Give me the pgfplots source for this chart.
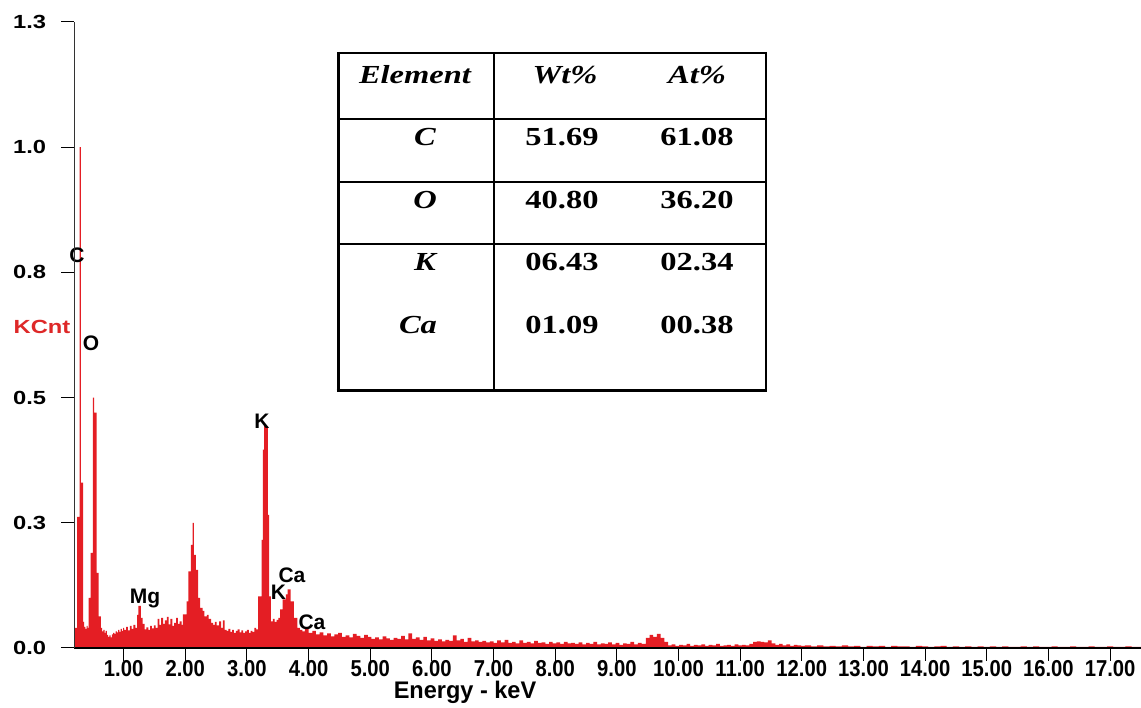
\documentclass[border=0pt]{standalone}
\usepackage{fontspec}
\usepackage{pgfplots}
\usepackage{pgfplotstable}
\pgfplotsset{compat=1.18}
\setmainfont{Liberation Sans}
\newfontfamily\ytfont[FakeStretch=1.25]{Liberation Sans}
\newfontfamily\xtfont[FakeStretch=0.88]{Liberation Sans}
\newfontfamily\xlfont[FakeStretch=0.98]{Liberation Sans}
\newfontfamily\pkfont[FakeStretch=1.0]{Liberation Sans}
\newfontfamily\tbfont[FakeStretch=1.25]{Liberation Serif}
\definecolor{specred}{RGB}{228,30,36}
\definecolor{kred}{RGB}{222,40,40}

% EDS spectrum: left edge of each channel group (keV) and counts (KCnt)
\pgfplotstableread{
E cnt
0.200 0.040
0.245 0.262
0.287 1.000
0.305 0.330
0.345 0.052
0.360 0.042
0.380 0.038
0.400 0.044
0.415 0.040
0.433 0.100
0.466 0.190
0.500 0.500
0.520 0.470
0.563 0.150
0.595 0.063
0.630 0.040
0.650 0.033
0.670 0.036
0.690 0.030
0.710 0.034
0.730 0.026
0.750 0.022
0.770 0.025
0.790 0.021
0.810 0.027
0.830 0.030
0.850 0.028
0.870 0.033
0.890 0.031
0.910 0.036
0.930 0.032
0.950 0.038
0.970 0.034
0.990 0.040
1.01 0.036
1.04 0.042
1.07 0.035
1.10 0.044
1.13 0.038
1.16 0.046
1.19 0.040
1.22 0.066
1.24 0.084
1.28 0.060
1.31 0.048
1.34 0.037
1.37 0.041
1.40 0.036
1.43 0.044
1.46 0.039
1.49 0.045
1.52 0.040
1.55 0.058
1.58 0.046
1.61 0.060
1.64 0.048
1.67 0.055
1.70 0.062
1.73 0.047
1.76 0.058
1.79 0.044
1.82 0.050
1.85 0.060
1.88 0.048
1.91 0.053
1.94 0.046
1.96 0.067
2.02 0.093
2.05 0.153
2.09 0.206
2.12 0.250
2.14 0.186
2.17 0.156
2.21 0.100
2.24 0.080
2.28 0.074
2.31 0.063
2.35 0.066
2.38 0.058
2.42 0.050
2.45 0.046
2.48 0.052
2.51 0.045
2.55 0.053
2.58 0.040
2.61 0.055
2.64 0.036
2.67 0.034
2.70 0.038
2.73 0.032
2.76 0.036
2.79 0.030
2.82 0.034
2.85 0.037
2.88 0.031
2.91 0.035
2.94 0.030
2.97 0.033
3.00 0.036
3.03 0.030
3.06 0.034
3.09 0.032
3.12 0.040
3.15 0.037
3.18 0.103
3.24 0.216
3.26 0.396
3.28 0.443
3.34 0.266
3.36 0.103
3.39 0.053
3.42 0.058
3.45 0.052
3.48 0.056
3.51 0.060
3.54 0.077
3.58 0.097
3.63 0.107
3.66 0.117
3.71 0.093
3.76 0.060
3.82 0.040
3.86 0.036
3.90 0.033
3.94 0.038
4.00 0.030
4.06 0.034
4.12 0.027
4.18 0.031
4.24 0.025
4.30 0.029
4.36 0.023
4.42 0.027
4.48 0.030
4.54 0.022
4.60 0.025
4.66 0.021
4.72 0.028
4.78 0.024
4.84 0.020
4.90 0.026
4.96 0.022
5.02 0.018
5.08 0.021
5.14 0.017
5.20 0.023
5.26 0.019
5.32 0.016
5.38 0.020
5.44 0.018
5.50 0.024
5.56 0.017
5.62 0.029
5.68 0.018
5.74 0.021
5.80 0.016
5.86 0.022
5.92 0.015
5.98 0.019
6.04 0.014
6.10 0.017
6.16 0.013
6.22 0.016
6.28 0.014
6.34 0.025
6.40 0.015
6.46 0.018
6.52 0.012
6.58 0.020
6.64 0.013
6.70 0.015
6.76 0.012
6.82 0.014
6.88 0.011
6.94 0.013
7.00 0.010
7.06 0.015
7.12 0.011
7.18 0.016
7.24 0.010
7.30 0.012
7.36 0.009
7.42 0.015
7.48 0.010
7.54 0.012
7.60 0.009
7.66 0.014
7.72 0.010
7.78 0.011
7.84 0.008
7.90 0.012
7.96 0.009
8.02 0.011
8.08 0.008
8.14 0.012
8.20 0.009
8.26 0.010
8.32 0.008
8.38 0.011
8.44 0.007
8.50 0.010
8.56 0.008
8.62 0.012
8.68 0.007
8.74 0.009
8.80 0.008
8.86 0.011
8.92 0.007
8.98 0.010
9.04 0.006
9.10 0.009
9.16 0.008
9.22 0.012
9.28 0.007
9.34 0.010
9.40 0.008
9.47 0.020
9.53 0.026
9.59 0.022
9.65 0.028
9.71 0.020
9.77 0.012
9.83 0.005
9.89 0.007
9.95 0.004
10.01 0.006
10.07 0.005
10.13 0.008
10.19 0.004
10.25 0.006
10.31 0.005
10.37 0.007
10.43 0.004
10.49 0.006
10.55 0.005
10.61 0.008
10.67 0.004
10.73 0.005
10.79 0.006
10.85 0.004
10.91 0.007
10.97 0.005
11.03 0.006
11.09 0.005
11.15 0.008
11.21 0.012
11.27 0.013
11.33 0.012
11.39 0.011
11.45 0.015
11.51 0.009
11.57 0.006
11.63 0.008
11.69 0.005
11.75 0.007
11.81 0.004
11.87 0.006
11.93 0.005
11.99 0.004
12.05 0.005
12.15 0.003
12.25 0.005
12.35 0.003
12.45 0.004
12.55 0.003
12.65 0.005
12.75 0.003
12.85 0.004
12.95 0.002
13.05 0.004
13.15 0.003
13.25 0.004
13.35 0.002
13.45 0.004
13.55 0.003
13.65 0.003
13.75 0.002
13.85 0.004
13.95 0.003
14.05 0.002
14.15 0.003
14.25 0.004
14.35 0.002
14.45 0.003
14.55 0.002
14.65 0.003
14.75 0.002
14.85 0.003
14.95 0.002
15.05 0.003
15.15 0.002
15.25 0.003
15.35 0.002
15.45 0.002
15.55 0.003
15.65 0.002
15.75 0.003
15.85 0.002
15.95 0.002
16.05 0.003
16.15 0.002
16.25 0.002
16.35 0.003
16.45 0.002
16.55 0.002
16.65 0.003
16.75 0.002
16.85 0.002
16.95 0.003
17.05 0.002
17.15 0.002
17.25 0.003
17.35 0.002
17.50 0.002
}\spectrum

\begin{document}
\begin{tikzpicture}[x=1pt,y=1pt]
\begin{axis}[
  at={(74.3pt,60pt)}, anchor=south west,
  scale only axis, width=1066.6pt, height=626pt,
  xmin=0.2, xmax=17.5, ymin=0, ymax=1.25,
  axis x line=bottom, axis y line=left,
  x axis line style={-, line width=2pt, black},
  y axis line style={-, line width=1.3pt, black!80},
  axis on top, clip=false,
  xtick={1,2,...,17},
  xticklabels={1.00,2.00,3.00,4.00,5.00,6.00,7.00,8.00,9.00,10.00,11.00,12.00,13.00,14.00,15.00,16.00,17.00},
  ytick={0,0.25,0.5,0.75,1,1.25},
  yticklabels={0.0,0.3,0.5,0.8,1.0,1.3},
  tick align=outside, major tick length=13pt,
  tick style={black, line width=1pt},
  /pgf/number format/assume math mode=true,
  xticklabel style={font=\xtfont\bfseries\fontsize{23}{23}\selectfont, inner sep=1pt, yshift=2pt},
  yticklabel style={font=\ytfont\bfseries\fontsize{19}{19}\selectfont, inner sep=1pt, xshift=-14pt},
]
\addplot[const plot, fill=specred, draw=none] table[x=E, y=cnt] {\spectrum} \closedcycle;

% peak identifications
\begin{scope}[every node/.style={font=\pkfont\bfseries\fontsize{21}{21}\selectfont, inner sep=0pt}]
\node at (axis cs:0.243,0.785) {C};
\node at (axis cs:0.470,0.609) {O};
\node at (axis cs:1.346,0.098) {Mg};
\node at (axis cs:3.244,0.452) {K};
\node at (axis cs:3.730,0.145) {Ca};
\node at (axis cs:3.510,0.111) {K};
\node at (axis cs:4.055,0.051) {Ca};
\end{scope}
\end{axis}

% axis titles
\node[font=\ytfont\bfseries\fontsize{19}{19}\selectfont, text=kred] at (42,381) {KCnt};
\node[font=\xlfont\bfseries\fontsize{24}{24}\selectfont] at (465,16) {Energy - keV};

% composition table
\draw[line width=1.3pt] (338,655) -- (766,655);
\draw[line width=2pt] (766,656) -- (766,317);
\draw[line width=3pt] (338,656) -- (338,316);
\draw[line width=3pt] (336.5,317) -- (767,317);
\draw[line width=1.3pt] (494,655) -- (494,317);
\draw[line width=1.2pt] (338,589) -- (766,589);
\draw[line width=1.2pt] (338,526) -- (766,526);
\draw[line width=1.2pt] (338,464) -- (766,464);
\begin{scope}[every node/.style={font=\tbfont\bfseries\fontsize{26}{26}\selectfont, inner sep=0pt}]
\node[font=\tbfont\bfseries\itshape\fontsize{26}{26}\selectfont] at (415,633) {Element};
\node[font=\tbfont\bfseries\itshape\fontsize{26}{26}\selectfont] at (565,633) {Wt\%};
\node[font=\tbfont\bfseries\itshape\fontsize{26}{26}\selectfont] at (697,633) {At\%};
\node[font=\tbfont\bfseries\itshape\fontsize{26}{26}\selectfont] at (425,571) {C};
\node[font=\tbfont\bfseries\itshape\fontsize{26}{26}\selectfont] at (425,508) {O};
\node[font=\tbfont\bfseries\itshape\fontsize{26}{26}\selectfont] at (425,446) {K};
\node[font=\tbfont\bfseries\itshape\fontsize{26}{26}\selectfont] at (418,383) {Ca};
\node at (562,571) {51.69}; \node at (697,571) {61.08};
\node at (562,508) {40.80}; \node at (697,508) {36.20};
\node at (562,446) {06.43}; \node at (697,446) {02.34};
\node at (562,383) {01.09}; \node at (697,383) {00.38};
\end{scope}

\pgfresetboundingbox
\useasboundingbox (0,0) rectangle (1141,708);
\end{tikzpicture}
\end{document}
